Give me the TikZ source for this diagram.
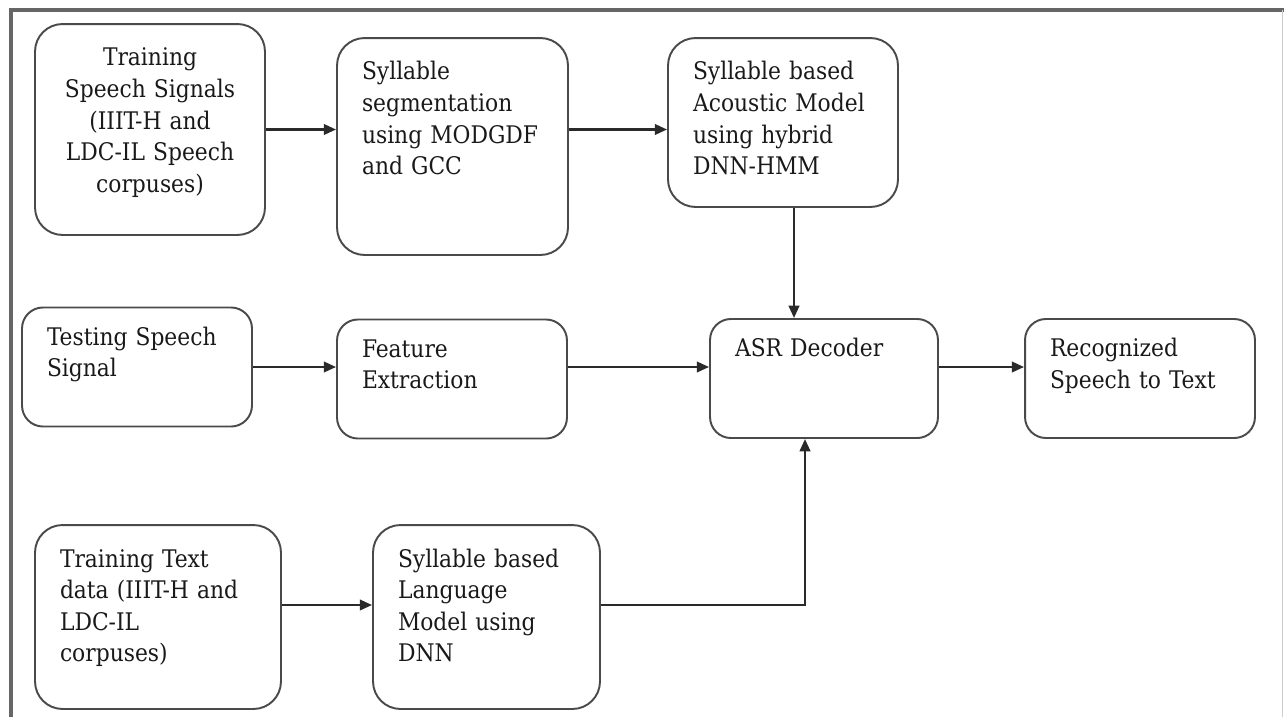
\documentclass[tikz,border=0pt]{standalone}
\usepackage{fontspec}
\setmainfont{DejaVu Serif Condensed}
\usepackage{xcolor}
\usetikzlibrary{arrows.meta}

\definecolor{boxline}{HTML}{4A4A4A}
\definecolor{frameline}{HTML}{666666}
\definecolor{arrowline}{HTML}{2A2A2A}

\begin{document}
\begin{tikzpicture}[x=0.02cm, y=-0.02cm, >={Triangle[length=7pt, width=6pt]},
    blk/.style={draw=boxline, line width=1.1pt, rounded corners=0.42cm, inner xsep=0.5cm, inner ysep=0.4cm,
        align=left, text=black!90, font=\fontsize{13.8}{18}\selectfont, text height=10pt},
    mid/.style={blk, text width=3.6cm, text depth=1.23cm},
    tall/.style={blk, rounded corners=0.55cm, text height=12.5pt},
    flow/.style={->, draw=arrowline, line width=1.35pt}]
    \useasboundingbox (0,0) rectangle (1284,717);

    % === FRAME ===
    \draw[frameline, line width=1.9pt] (11,717) -- (11,10) -- (1284,10);
    \draw[black!20, line width=0.6pt] (1282.5,10) -- (1282.5,717);

    % === TOP ROW: ACOUSTIC TRAINING ===
    \node[tall, align=center, text width=3.6cm, text depth=2.98cm] (tss) at (150,129.5)
        {Training\\Speech Signals\\(IIIT-H and\\LDC-IL Speech\\corpuses)};
    \node[tall, text width=3.62cm, text depth=3.1cm] (seg) at (452.5,146.5)
        {Syllable\\segmentation\\using MODGDF\\and GCC};
    \node[tall, text width=3.6cm, text depth=2.14cm] (am) at (783,122.5)
        {Syllable based\\Acoustic Model\\using hybrid\\DNN-HMM};

    \draw[flow] (tss.east) -- (tss.east -| seg.west);
    \draw[flow] (seg.east |- tss.east) -- (am.west |- tss.east);

    % === MIDDLE ROW: TESTING ===
    \node[mid] (tsig) at (137,367) {Testing Speech\\Signal};
    \node[mid] (fe) at (452,379) {Feature\\Extraction};
    \node[mid, text width=3.56cm] (dec) at (824,378.5) {ASR Decoder};
    \node[mid] (rec) at (1140,378.5) {Recognized\\Speech to Text};

    \draw[flow] (tsig.east) -- (tsig.east -| fe.west);
    \draw[flow] (fe.east |- tsig.east) -- (dec.west |- tsig.east);
    \draw[flow] (dec.east |- tsig.east) -- (rec.west |- tsig.east);
    \draw[flow] ([xshift=0.22cm]am.south) -- ([xshift=0.22cm]am.south |- dec.north);

    % === BOTTOM ROW: LANGUAGE MODEL ===
    \node[tall, text width=3.92cm, text depth=2.44cm] (ttd) at (158,617)
        {Training Text\\data (IIIT-H and\\LDC-IL\\corpuses)};
    \node[tall, text width=3.54cm, text depth=2.44cm] (lm) at (486.5,617)
        {Syllable based\\Language\\Model using\\DNN};

    \draw[flow] ([yshift=0.24cm]ttd.east) -- ([yshift=0.24cm]ttd.east -| lm.west);
    \draw[flow] ([yshift=0.24cm]lm.east) -| ([xshift=-0.38cm]dec.south);
\end{tikzpicture}
\end{document}
